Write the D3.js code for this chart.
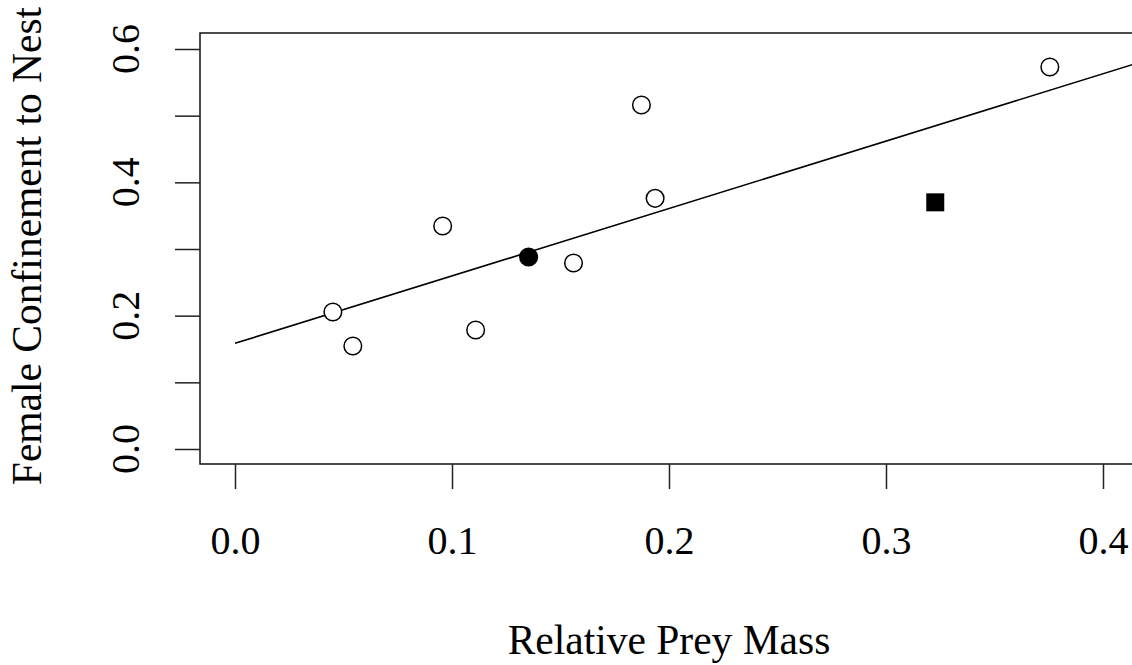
<!DOCTYPE html>
<html><head><meta charset="utf-8">
<script src="https://cdn.jsdelivr.net/npm/d3@7"></script>
<style>body{margin:0;background:#fff}svg{display:block}text{font-family:"Liberation Serif","Times New Roman",serif;fill:#000}</style>
</head><body>
<script>
const openX = [0.0451, 0.0543, 0.0957, 0.1109, 0.156, 0.1873, 0.1936, 0.3755];
const openY = [0.2055, 0.1545, 0.3345, 0.1785, 0.279, 0.516, 0.376, 0.573];
const filledCircleX = [0.1353];
const filledCircleY = [0.288];
const squareX = [0.3227];
const squareY = [0.370];
const fitIntercept = 0.1585;
const fitSlope = 1.011;
const fitRange = [0, 0.45];
const xTicks = [0.0, 0.1, 0.2, 0.3, 0.4];
const yTicks = [0.0, 0.1, 0.2, 0.3, 0.4, 0.5, 0.6];
const yLabelTicks = [0.0, 0.2, 0.4, 0.6];
const xTitle = "Relative Prey Mass";
const yTitle = "Female Confinement to Nest";

const W = 1132, H = 665;
const svg = d3.select("body").append("svg").attr("width", W).attr("height", H);
const box = {l: 200, t: 33, r: 1160, b: 464};
const x = d3.scaleLinear().domain([0, 0.4]).range([235, 1103]);
const y = d3.scaleLinear().domain([0, 0.6]).range([449, 49]);

svg.append("defs").append("clipPath").attr("id", "clip")
  .append("rect").attr("x", box.l).attr("y", box.t).attr("width", box.r - box.l).attr("height", box.b - box.t);

// box
svg.append("rect").attr("x", box.l).attr("y", box.t).attr("width", box.r - box.l).attr("height", box.b - box.t)
  .attr("fill", "none").attr("stroke", "#111").attr("stroke-width", 1.5);

// x axis
const xa = svg.append("g").attr("transform", `translate(0,${box.b})`)
  .call(d3.axisBottom(x).tickValues(xTicks).tickSize(25).tickPadding(37).tickFormat(d3.format(".1f")));
xa.select(".domain").remove();
xa.selectAll("line").attr("stroke", "#222").attr("stroke-width", 1.5);
xa.selectAll("text").attr("font-size", 40).attr("font-family", "Liberation Serif").attr("fill", "#000");

// y axis
const ya = svg.append("g").attr("transform", `translate(${box.l},0)`)
  .call(d3.axisLeft(y).tickValues(yTicks).tickSize(25).tickFormat(""));
ya.select(".domain").remove();
ya.selectAll("line").attr("stroke", "#222").attr("stroke-width", 1.5);
svg.selectAll(".ylab").data(yLabelTicks).enter().append("text")
  .attr("transform", d => `translate(139,${y(d)}) rotate(-90)`)
  .attr("text-anchor", "middle").attr("font-size", 40).text(d3.format(".1f"));

// titles
svg.append("text").attr("x", 669).attr("y", 654).attr("text-anchor", "middle")
  .attr("font-size", 41.5).text(xTitle);
svg.append("text").attr("transform", `translate(41,246) rotate(-90)`)
  .attr("text-anchor", "middle").attr("font-size", 41.5).text(yTitle);

const g = svg.append("g").attr("clip-path", "url(#clip)");
// fit line
g.append("line")
  .attr("x1", x(fitRange[0])).attr("y1", y(fitIntercept + fitSlope * fitRange[0]))
  .attr("x2", x(fitRange[1])).attr("y2", y(fitIntercept + fitSlope * fitRange[1]))
  .attr("stroke", "#000").attr("stroke-width", 1.6);

// open circles
g.selectAll(".o").data(openX.map((v, i) => [v, openY[i]])).enter().append("circle")
  .attr("cx", d => x(d[0])).attr("cy", d => y(d[1])).attr("r", 8.8)
  .attr("fill", "#fff").attr("stroke", "#000").attr("stroke-width", 1.5);
g.selectAll(".f").data(filledCircleX.map((v, i) => [v, filledCircleY[i]])).enter().append("circle")
  .attr("cx", d => x(d[0])).attr("cy", d => y(d[1])).attr("r", 8.8)
  .attr("fill", "#000").attr("stroke", "#000").attr("stroke-width", 1.5);
g.selectAll(".s").data(squareX.map((v, i) => [v, squareY[i]])).enter().append("rect")
  .attr("x", d => x(d[0]) - 9).attr("y", d => y(d[1]) - 9).attr("width", 18).attr("height", 18)
  .attr("fill", "#000");
</script>
</body></html>
